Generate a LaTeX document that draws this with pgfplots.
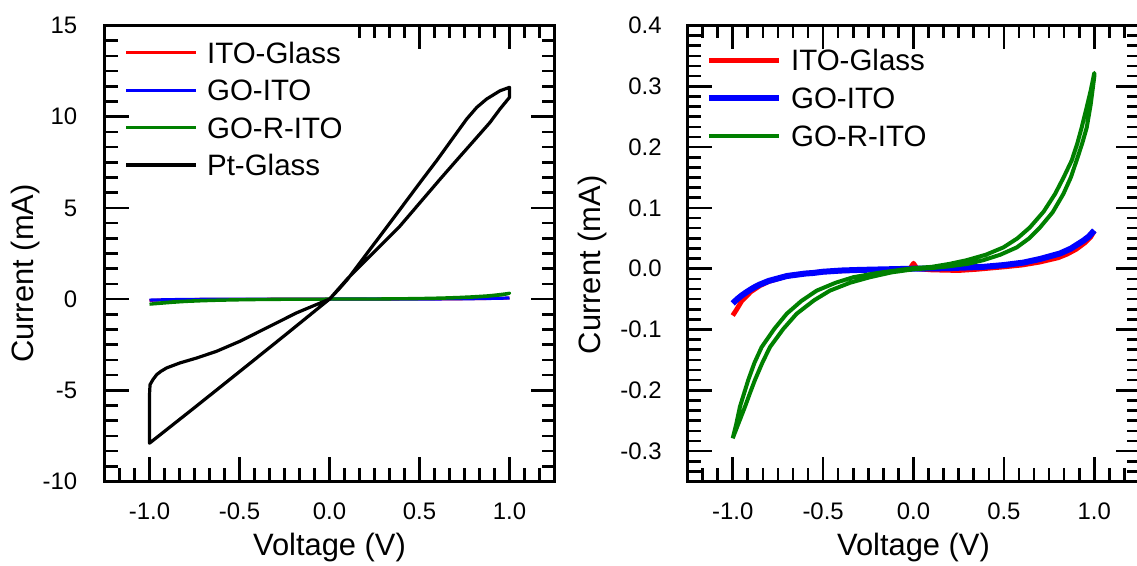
\documentclass[border=0pt]{standalone}
\usepackage{fontspec}
\setmainfont{Liberation Sans}
\usepackage{pgfplots}
\pgfplotsset{compat=1.18}
\usepackage{pgfplotstable}

\definecolor{cred}{RGB}{255,0,0}
\definecolor{cblue}{RGB}{0,0,255}
\definecolor{cgreen}{RGB}{0,128,0}

% ITO-Glass
\pgfplotstableread{
x y
-1.0 -0.077
-0.98 -0.068
-0.95 -0.053
-0.9 -0.038
-0.85 -0.028
-0.8 -0.021
-0.7 -0.012
-0.6 -0.008
-0.5 -0.005
-0.3 -0.002
-0.1 -0.001
-0.02 0.0
0.0 0.009
0.02 0.0
0.1 -0.002
0.25 -0.003
0.35 -0.001
0.5 0.003
0.6 0.006
0.7 0.011
0.8 0.018
0.85 0.024
0.9 0.032
0.95 0.043
0.98 0.052
1.0 0.062
}\redtab

% GO-ITO
\pgfplotstableread{
x y
-1.0 -0.057
-0.975 -0.050
-0.95 -0.044
-0.926 -0.039
-0.9 -0.034
-0.877 -0.030
-0.85 -0.026
-0.8 -0.020
-0.775 -0.018
-0.7 -0.012
-0.6 -0.008
-0.554 -0.007
-0.5 -0.005
-0.4 -0.003
-0.3 -0.002
-0.15 -0.001
0.0 0.0
0.2 0.001
0.384 0.003
0.5 0.006
0.607 0.010
0.7 0.016
0.81 0.025
0.87 0.033
0.939 0.046
0.97 0.053
1.0 0.063
}\bluetab

% GO-R-ITO, full loop
\pgfplotstableread{
x y
-1.0 -0.279
-0.97 -0.256
-0.932 -0.227
-0.905 -0.205
-0.877 -0.183
-0.835 -0.154
-0.794 -0.129
-0.72 -0.099
-0.646 -0.074
-0.55 -0.052
-0.462 -0.036
-0.35 -0.023
-0.241 -0.014
-0.12 -0.006
0.0 -0.001
0.1 0.001
0.2 0.004
0.3 0.008
0.386 0.014
0.48 0.023
0.571 0.035
0.64 0.050
0.700 0.068
0.77 0.093
0.829 0.123
0.87 0.150
0.902 0.178
0.932 0.205
0.958 0.232
0.98 0.27
1.0 0.316
1.0 0.322
0.98 0.293
0.955 0.262
0.930 0.232
0.905 0.205
0.875 0.178
0.83 0.150
0.783 0.123
0.72 0.094
0.644 0.068
0.575 0.050
0.497 0.035
0.40 0.023
0.294 0.014
0.2 0.008
0.1 0.003
0.0 0.001
-0.1 -0.003
-0.2 -0.007
-0.333 -0.014
-0.43 -0.023
-0.535 -0.036
-0.62 -0.053
-0.701 -0.074
-0.77 -0.099
-0.840 -0.129
-0.88 -0.155
-0.914 -0.183
-0.960 -0.227
-0.98 -0.255
-1.0 -0.279
}\greentab

% Pt-Glass, full loop
\pgfplotstableread{
x y
0 0
0.05 0.52
0.1 1.08
0.169 1.99
0.281 3.46
0.392 4.92
0.503 6.39
0.596 7.6
0.688 8.86
0.762 9.87
0.818 10.51
0.873 10.97
0.947 11.42
1.0 11.61
1.0 11.06
0.947 10.42
0.892 9.69
0.818 8.86
0.75 8.1
0.707 7.62
0.614 6.57
0.503 5.29
0.392 4.01
0.281 2.91
0.169 1.81
0.1 1.12
0.05 0.56
0 0
-0.182 -0.75
-0.368 -1.67
-0.497 -2.31
-0.627 -2.86
-0.738 -3.23
-0.831 -3.50
-0.904 -3.77
-0.935 -3.95
-0.960 -4.14
-0.980 -4.40
-0.997 -4.69
-1.0 -5.24
-1.0 -7.90
-0.75 -5.95
-0.5 -3.98
-0.25 -2.0
0 0
}\pttab

\pgfplotsset{
  ivbase/.style={
    scale only axis,
    clip=false,
    xmin=-1.25, xmax=1.25,
    xtick={-1,-0.5,0,0.5,1},
    tick align=inside,
    major tick length=0pt,
    minor tick length=0pt,
    tick style={draw=none},
    axis line style={line width=1.8bp, black},
    /pgf/number format/assume math mode=true,
    tick label style={font=\fontsize{12}{14}\selectfont},
    xticklabel style={anchor=north, inner sep=0pt,
      /pgf/number format/.cd, fixed, fixed zerofill, precision=1},
    xticklabel shift=10.6bp,
    label style={font=\fontsize{15.5}{18}\selectfont},
    xlabel={Voltage (V)},
    ylabel={Current (mA)},
    xlabel style={at={(axis description cs:0.5,0)}, anchor=base, yshift=-36.75bp},
    legend cell align=left,
    legend image code/.code={\draw[#1] (0bp,0bp) -- (35bp,0bp);},
  },
}

\begin{document}
\begin{tikzpicture}
\useasboundingbox (0,0) rectangle (568.5bp,283bp);

\begin{axis}[
  ivbase,
  at={(52.25bp,42.25bp)}, anchor=south west,
  width=225bp, height=228bp,
  ymin=-10, ymax=15,
  ytick={-10,-5,0,5,10,15},
  yticklabel style={anchor=east, inner sep=0pt},
  yticklabel shift=13.5bp,
  ylabel style={at={(axis description cs:-0.176,0.456)}, anchor=center},
  legend style={draw=none, fill=none, at={(axis description cs:0,1)},
    anchor=north west, xshift=10bp, yshift=-8.1bp, inner sep=0pt,
    row sep=8.1bp, column sep=4.5bp,
    nodes={inner sep=0pt, text height=10.6bp, text depth=0bp,
      font=\fontsize{14.8}{17}\selectfont}},
]
\addplot[cred, line width=1.4bp, line join=round] table {\redtab};
\addlegendentry{ITO-Glass}
\addplot[cblue, line width=1.6bp, line join=round] table {\bluetab};
\addlegendentry{GO-ITO}
\addplot[cgreen, line width=1.6bp, line join=round] table {\greentab};
\addlegendentry{GO-R-ITO}
\addplot[black, line width=1.6bp, line join=round] table {\pttab};
\addlegendentry{Pt-Glass}
\end{axis}

\begin{axis}[
  ivbase,
  at={(343.75bp,42.25bp)}, anchor=south west,
  width=226bp, height=228bp,
  ymin=-0.35, ymax=0.4,
  ytick={-0.3,-0.2,-0.1,0,0.1,0.2,0.3,0.4},
  yticklabel style={anchor=east, inner sep=0pt,
    /pgf/number format/.cd, fixed, fixed zerofill, precision=1},
  yticklabel shift=12.75bp,
  ylabel style={at={(axis description cs:-0.210,0.475)}, anchor=center},
  legend style={draw=none, fill=none, at={(axis description cs:0,1)},
    anchor=north west, xshift=9bp, yshift=-11.8bp, inner sep=0pt,
    row sep=8.4bp, column sep=4.6bp,
    nodes={inner sep=0pt, text height=10.6bp, text depth=0bp,
      font=\fontsize{14.8}{17}\selectfont}},
]
\addplot[cred, line width=2.4bp, line join=round] table {\redtab};
\addlegendentry{ITO-Glass}
\addplot[cblue, line width=3bp, line join=round] table {\bluetab};
\addlegendentry{GO-ITO}
\addplot[cgreen, line width=2bp, line join=round] table {\greentab};
\addlegendentry{GO-R-ITO}
\end{axis}

% inward ticks as small filled bars (major 12bp, minor 6.5bp, 1.3bp wide)
% left box: x 52.25..277.25bp, y 42.25..270.25bp
\foreach \k in {1,...,29}{%
  \pgfmathsetmacro{\len}{mod(\k-3,6)==0 ? 12 : 6.5}%
  \pgfmathsetmacro{\xx}{52.25+7.5*\k}%
  \fill[black] (\xx bp-0.65bp,42.25bp) rectangle (\xx bp+0.65bp,42.25bp+\len bp);
  \pgfmathsetmacro{\yy}{42.25+7.6*\k}%
  \pgfmathsetmacro{\lny}{mod(\k,6)==0 ? 12 : 6.5}%
  \fill[black] (52.25bp,\yy bp-0.65bp) rectangle (52.25bp+\lny bp,\yy bp+0.65bp);
  \fill[black] (277.25bp,\yy bp-0.65bp) rectangle (277.25bp-\lny bp,\yy bp+0.65bp);
}
\foreach \k in {17,...,29}{%
  \pgfmathsetmacro{\len}{mod(\k-3,6)==0 ? 12 : 6.5}%
  \pgfmathsetmacro{\xx}{52.25+7.5*\k}%
  \fill[black] (\xx bp-0.65bp,270.25bp) rectangle (\xx bp+0.65bp,270.25bp-\len bp);
}
% right box: x 343.75..569.75bp, y 42.25..270.25bp
\foreach \k in {1,...,29}{%
  \pgfmathsetmacro{\len}{mod(\k-3,6)==0 ? 12 : 6.5}%
  \pgfmathsetmacro{\xx}{343.75+7.53333*\k}%
  \fill[black] (\xx bp-0.65bp,42.25bp) rectangle (\xx bp+0.65bp,42.25bp+\len bp);
  \fill[black] (\xx bp-0.65bp,270.25bp) rectangle (\xx bp+0.65bp,270.25bp-\len bp);
}
\foreach \k in {1,...,44}{%
  \pgfmathsetmacro{\len}{mod(\k-3,6)==0 ? 12 : 6.5}%
  \pgfmathsetmacro{\yy}{42.25+5.06667*\k}%
  \fill[black] (343.75bp,\yy bp-0.65bp) rectangle (343.75bp+\len bp,\yy bp+0.65bp);
  \fill[black] (569.75bp,\yy bp-0.65bp) rectangle (569.75bp-\len bp,\yy bp+0.65bp);
}
\end{tikzpicture}
\end{document}
